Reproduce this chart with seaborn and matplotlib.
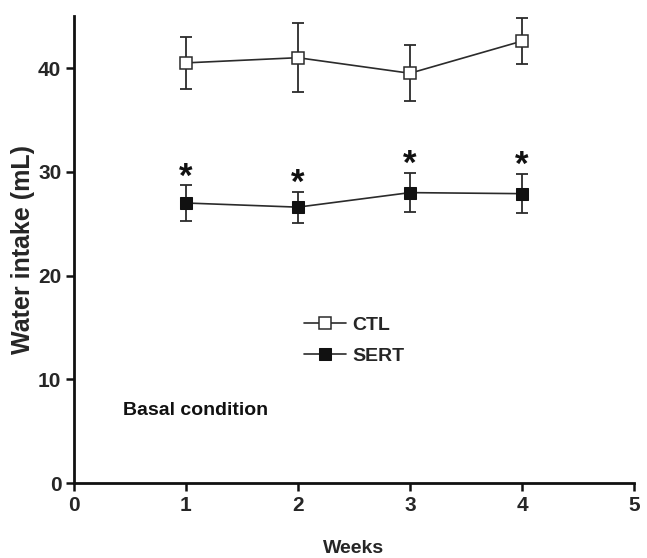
import numpy as np
import pandas as pd
import seaborn as sns
import matplotlib.pyplot as plt

# dados (média ± erro)
semanas = [1, 2, 3, 4]
ctl_media = [40.5, 41.0, 39.5, 42.6]
ctl_erro = [2.5, 3.3, 2.7, 2.2]
sert_media = [27.0, 26.6, 28.0, 27.9]
sert_erro = [1.7, 1.5, 1.9, 1.9]
marca_sig = ['*', '*', '*', '*']

sns.set_style("ticks")
plt.rcParams['font.family'] = ['Liberation Sans', 'DejaVu Sans']
plt.rcParams['font.weight'] = 'bold'

fig = plt.figure(figsize=(6.47, 5.58), dpi=100)
ax = fig.add_axes([0.114, 0.134, 0.866, 0.837])

cor = '#2b2b2b'
df = pd.DataFrame({'Weeks': semanas * 2,
                   'Water': ctl_media + sert_media,
                   'Grupo': ['CTL'] * 4 + ['SERT'] * 4})

# barras de erro
ax.errorbar(semanas, ctl_media, yerr=ctl_erro, fmt='none', ecolor=cor,
            elinewidth=1.3, capsize=4, capthick=1.3, zorder=2)
ax.errorbar(semanas, sert_media, yerr=sert_erro, fmt='none', ecolor=cor,
            elinewidth=1.3, capsize=4, capthick=1.3, zorder=2)

sns.lineplot(data=df[df.Grupo == 'CTL'], x='Weeks', y='Water', ax=ax,
             color=cor, linewidth=1.2, marker='s', markersize=8,
             markerfacecolor='white', markeredgecolor=cor, markeredgewidth=1.1,
             label='CTL', zorder=3)
sns.lineplot(data=df[df.Grupo == 'SERT'], x='Weeks', y='Water', ax=ax,
             color=cor, linewidth=1.2, marker='s', markersize=8,
             markerfacecolor='#111111', markeredgecolor='#111111',
             label='SERT', zorder=3)

# asteriscos
for s, m, e, txt in zip(semanas, sert_media, sert_erro, marca_sig):
    ax.annotate(txt, (s, m + e), xytext=(0, -1), textcoords='offset points',
                ha='center', va='baseline', fontsize=25, fontweight='bold',
                color='#111111')

ax.text(0.44, 7.0, 'Basal condition', fontsize=14, fontweight='bold',
        ha='left', va='center', color='#111111')

ax.set_xlim(0, 5)
ax.set_ylim(0, 45)
ax.set_xticks([0, 1, 2, 3, 4, 5])
ax.set_yticks([0, 10, 20, 30, 40])
ax.set_xlabel('Weeks', fontsize=14, fontweight='bold', labelpad=18)
ax.set_ylabel('Water intake (mL)', fontsize=18, fontweight='bold', labelpad=2)
ax.tick_params(axis='both', labelsize=15, width=1.8, length=6, color='#111111',
               pad=3)
for lbl in ax.get_xticklabels() + ax.get_yticklabels():
    lbl.set_fontweight('bold')

sns.despine(ax=ax)
for sp in ['left', 'bottom']:
    ax.spines[sp].set_linewidth(2)
    ax.spines[sp].set_color('#111111')

leg = ax.legend(loc='center', bbox_to_anchor=(0.50, 0.305), frameon=False,
                fontsize=14, handlelength=2.2, handletextpad=0.3, labelspacing=0.7)
for t in leg.get_texts():
    t.set_fontweight('bold')

fig.savefig('out.png', dpi=100)
